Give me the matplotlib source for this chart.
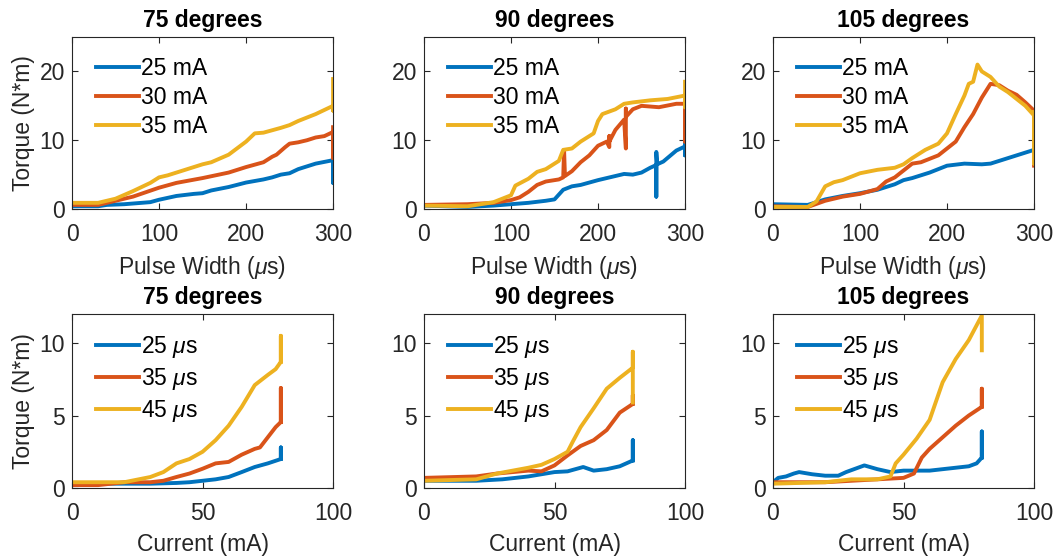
import matplotlib
matplotlib.use("Agg")
import matplotlib.pyplot as plt

plt.rcParams['font.family'] = ['Liberation Sans', 'DejaVu Sans']
plt.rcParams['mathtext.fontset'] = 'custom'
plt.rcParams['mathtext.it'] = 'Liberation Sans:italic'
plt.rcParams['mathtext.rm'] = 'Liberation Sans'

colors = ['#0072BD', '#D95319', '#EDB120']
angles = ['75 degrees', '90 degrees', '105 degrees']

# --- top row: torque vs pulse width, one curve per current ---
pw_labels = ['25 mA', '30 mA', '35 mA']

pw75_25_x = [0, 20, 30, 40, 60, 80, 90, 100, 120, 140, 150, 160, 180, 200, 220, 230, 240, 250, 260, 280, 300, 300, 300]
pw75_25_y = [0.4, 0.4, 0.4, 0.6, 0.7, 0.9, 1.0, 1.35, 1.9, 2.2, 2.3, 2.7, 3.2, 3.85, 4.3, 4.6, 5.0, 5.2, 5.8, 6.6, 7.1, 3.8, 7.3]
pw75_30_x = [0, 30, 50, 70, 100, 120, 150, 180, 200, 220, 230, 235, 245, 250, 260, 270, 280, 290, 300, 300, 300]
pw75_30_y = [0.6, 0.6, 1.2, 1.8, 3.1, 3.8, 4.5, 5.3, 6.1, 6.8, 7.6, 7.9, 9.0, 9.5, 9.7, 10.0, 10.4, 10.6, 11.2, 7.4, 11.9]
pw75_35_x = [0, 30, 50, 70, 90, 100, 110, 130, 150, 160, 180, 200, 210, 220, 240, 250, 260, 280, 300, 300, 300]
pw75_35_y = [0.9, 0.9, 1.5, 2.6, 3.8, 4.6, 4.9, 5.7, 6.5, 6.8, 7.9, 9.8, 11.0, 11.1, 11.8, 12.2, 12.8, 13.8, 15.0, 14.3, 18.9]

pw90_25_x = [0, 50, 80, 100, 120, 140, 150, 160, 170, 180, 200, 220, 230, 240, 250, 260, 267, 267, 267, 268, 275, 290, 300, 300, 300]
pw90_25_y = [0.5, 0.3, 0.5, 0.7, 0.9, 1.2, 1.4, 2.8, 3.3, 3.5, 4.2, 4.8, 5.1, 5.0, 5.3, 6.0, 6.4, 1.8, 8.3, 6.5, 6.9, 8.5, 9.1, 7.8, 9.8]
pw90_30_x = [0, 50, 80, 100, 110, 120, 130, 140, 155, 160, 161, 162, 170, 180, 190, 200, 210, 213, 213, 213, 220, 230, 232, 232, 232, 240, 250, 270, 290, 300, 300, 300]
pw90_30_y = [0.6, 0.7, 0.9, 1.3, 1.7, 2.5, 3.5, 4.0, 4.3, 4.6, 8.6, 4.8, 5.5, 6.8, 7.8, 9.2, 9.8, 9.0, 10.6, 9.8, 11.5, 13.0, 8.8, 14.6, 13.4, 14.5, 15.0, 14.8, 15.3, 15.3, 9.8, 15.3]
pw90_35_x = [0, 50, 80, 100, 105, 120, 130, 140, 155, 160, 170, 180, 195, 200, 205, 220, 230, 240, 260, 280, 300, 300, 300]
pw90_35_y = [0.5, 0.4, 1.0, 2.0, 3.4, 4.4, 5.4, 5.8, 7.0, 8.6, 8.8, 9.8, 11.0, 12.8, 13.8, 14.5, 15.3, 15.5, 15.8, 16.0, 16.5, 14.8, 18.5]

pw105_25_x = [0, 40, 50, 60, 80, 100, 120, 140, 150, 160, 180, 200, 220, 240, 250, 260, 280, 300]
pw105_25_y = [0.7, 0.6, 1.0, 1.4, 1.9, 2.3, 2.8, 3.6, 4.2, 4.5, 5.3, 6.3, 6.6, 6.5, 6.6, 7.0, 7.8, 8.6]
pw105_30_x = [0, 40, 60, 80, 100, 120, 130, 140, 160, 170, 190, 200, 210, 220, 230, 240, 250, 260, 270, 280, 290, 300, 300]
pw105_30_y = [0.4, 0.3, 1.2, 1.8, 2.2, 2.9, 4.0, 4.6, 6.6, 6.8, 7.8, 8.8, 9.8, 11.9, 13.8, 16.2, 18.2, 18.0, 17.2, 16.6, 15.5, 14.3, 6.3]
pw105_35_x = [0, 40, 50, 60, 70, 80, 100, 120, 140, 150, 160, 175, 190, 200, 210, 220, 225, 230, 235, 240, 250, 260, 270, 280, 290, 300, 300, 300]
pw105_35_y = [0.3, 0.3, 1.1, 3.3, 3.9, 4.2, 5.2, 5.7, 6.0, 6.5, 7.4, 8.6, 9.5, 11.0, 13.8, 16.5, 18.2, 18.5, 21.0, 20.0, 19.2, 17.8, 17.0, 16.0, 15.0, 13.6, 6.6, 14.1]

# --- bottom row: torque vs current, one curve per pulse width ---
cur_labels = [r'25 $\mu$s', r'35 $\mu$s', r'45 $\mu$s']

cu75_25_x = [0, 20, 30, 40, 45, 50, 55, 60, 65, 70, 75, 80, 80, 80]
cu75_25_y = [0.3, 0.3, 0.3, 0.35, 0.4, 0.5, 0.6, 0.76, 1.1, 1.45, 1.7, 2.0, 2.8, 2.0]
cu75_35_x = [0, 10, 20, 30, 35, 40, 45, 50, 55, 60, 65, 70, 72, 75, 78, 80, 80, 80]
cu75_35_y = [0.2, 0.2, 0.4, 0.4, 0.5, 0.76, 1.0, 1.33, 1.7, 1.8, 2.3, 2.7, 2.8, 3.5, 4.2, 4.55, 6.9, 4.55]
cu75_45_x = [0, 20, 30, 35, 40, 45, 50, 55, 60, 65, 70, 75, 78, 80, 80, 80]
cu75_45_y = [0.4, 0.4, 0.76, 1.1, 1.7, 2.0, 2.5, 3.3, 4.3, 5.6, 7.1, 7.8, 8.2, 8.7, 10.5, 8.7]

cu90_25_x = [0, 20, 30, 40, 50, 55, 61, 65, 70, 75, 80, 80, 80]
cu90_25_y = [0.5, 0.5, 0.6, 0.8, 1.1, 1.15, 1.45, 1.2, 1.3, 1.5, 1.9, 3.3, 1.9]
cu90_35_x = [0, 20, 28, 40, 45, 50, 55, 60, 65, 70, 75, 80, 80, 80]
cu90_35_y = [0.7, 0.8, 1.0, 1.2, 1.15, 1.56, 2.25, 2.9, 3.3, 4.0, 5.2, 5.8, 6.4, 5.8]
cu90_45_x = [0, 20, 28, 40, 45, 50, 55, 57, 60, 65, 70, 75, 80, 80, 80]
cu90_45_y = [0.5, 0.6, 1.0, 1.4, 1.6, 2.0, 2.5, 3.2, 4.2, 5.5, 6.85, 7.6, 8.3, 9.4, 5.9]

cu105_25_x = [0, 2, 5, 8, 10, 15, 20, 25, 28, 35, 40, 45, 50, 60, 70, 75, 78, 80, 80, 80]
cu105_25_y = [0.4, 0.7, 0.8, 1.0, 1.1, 0.95, 0.85, 0.85, 1.1, 1.56, 1.3, 1.1, 1.2, 1.2, 1.4, 1.5, 1.7, 2.1, 3.9, 2.1]
cu105_35_x = [0, 20, 30, 40, 50, 54, 57, 60, 65, 70, 75, 80, 80, 80]
cu105_35_y = [0.4, 0.4, 0.5, 0.6, 0.7, 1.0, 2.1, 2.7, 3.5, 4.3, 5.0, 5.6, 6.85, 5.6]
cu105_45_x = [0, 20, 30, 40, 45, 47, 50, 55, 60, 65, 70, 75, 80, 80]
cu105_45_y = [0.3, 0.4, 0.6, 0.6, 0.8, 1.7, 2.3, 3.4, 4.7, 7.3, 8.9, 10.2, 11.9, 9.5]

top_data = [
    [(pw75_25_x, pw75_25_y), (pw75_30_x, pw75_30_y), (pw75_35_x, pw75_35_y)],
    [(pw90_25_x, pw90_25_y), (pw90_30_x, pw90_30_y), (pw90_35_x, pw90_35_y)],
    [(pw105_25_x, pw105_25_y), (pw105_30_x, pw105_30_y), (pw105_35_x, pw105_35_y)],
]
bottom_data = [
    [(cu75_25_x, cu75_25_y), (cu75_35_x, cu75_35_y), (cu75_45_x, cu75_45_y)],
    [(cu90_25_x, cu90_25_y), (cu90_35_x, cu90_35_y), (cu90_45_x, cu90_45_y)],
    [(cu105_25_x, cu105_25_y), (cu105_35_x, cu105_35_y), (cu105_45_x, cu105_45_y)],
]

fig = plt.figure(figsize=(10.56, 5.58), dpi=100)
lefts = [0.0682, 0.4015, 0.732]
axcol = '#262626'
fs = 16.5


def style(ax, xlim, ylim, xticks, yticks, xlabel, title, ylabel=None):
    ax.set_xlim(xlim)
    ax.set_ylim(ylim)
    ax.set_xticks(xticks)
    ax.set_yticks(yticks)
    ax.tick_params(direction='in', top=True, right=True, labelsize=fs,
                   colors=axcol, length=4, width=0.8)
    ax.tick_params(axis='x', pad=10)
    ax.tick_params(axis='y', pad=5)
    for s in ax.spines.values():
        s.set_color(axcol)
        s.set_linewidth(0.8)
    ax.set_xlabel(xlabel, fontsize=fs, color=axcol, labelpad=6)
    if ylabel:
        ax.set_ylabel(ylabel, fontsize=fs, color=axcol, labelpad=3)
    ax.set_title(title, fontsize=fs, fontweight='bold', pad=7)


def add_legend(ax):
    ax.legend(loc='upper left', frameon=False, fontsize=fs, handlelength=1.9,
              handletextpad=0.1, labelspacing=0.28, borderaxespad=0.0,
              bbox_to_anchor=(0.055, 0.94))


for i in range(3):
    ax = fig.add_axes([lefts[i], 0.6254, 0.2472, 0.3082])
    for (x, y), c, lab in zip(top_data[i], colors, pw_labels):
        ax.plot(x, y, color=c, lw=2.8, label=lab)
    style(ax, (0, 300), (0, 25), [0, 100, 200, 300], [0, 10, 20],
          r'Pulse Width ($\mu$s)', angles[i], 'Torque (N*m)' if i == 0 else None)
    add_legend(ax)

    ax = fig.add_axes([lefts[i], 0.1254, 0.2472, 0.3118])
    for (x, y), c, lab in zip(bottom_data[i], colors, cur_labels):
        ax.plot(x, y, color=c, lw=2.8, label=lab)
    style(ax, (0, 100), (0, 12), [0, 50, 100], [0, 5, 10],
          'Current (mA)', angles[i], 'Torque (N*m)' if i == 0 else None)
    add_legend(ax)

fig.savefig('out.png', dpi=100)
